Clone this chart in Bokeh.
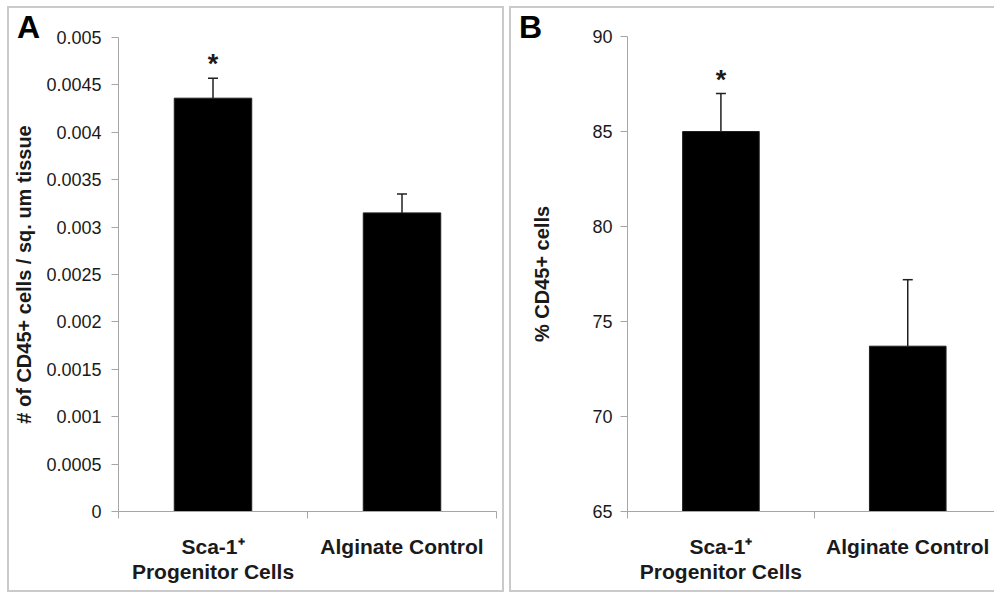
from bokeh.plotting import figure
from bokeh.models import FixedTicker, Whisker, ColumnDataSource, TeeHead, Spacer, Range1d, Div
from bokeh.layouts import row, column
from bokeh.embed import file_html
from bokeh.resources import INLINE
from bokeh.core.properties import value

# ---------------- data ----------------
categories = ["Sca-1\u207a\nProgenitor Cells", "Alginate Control"]
significance = ["*", ""]

a_values = [0.00436, 0.00315]
a_errors = [0.00021, 0.00020]
a_ticks = [0, 0.0005, 0.001, 0.0015, 0.002, 0.0025, 0.003, 0.0035, 0.004, 0.0045, 0.005]
a_tick_labels = ["0", "0.0005", "0.001", "0.0015", "0.002", "0.0025", "0.003",
                 "0.0035", "0.004", "0.0045", "0.005"]
a_ylabel = "# of CD45+ cells / sq. um tissue"

b_values = [85.0, 73.7]
b_errors = [2.0, 3.5]
b_ticks = [65, 70, 75, 80, 85, 90]
b_tick_labels = ["65", "70", "75", "80", "85", "90"]
b_ylabel = "% CD45+ cells"

FONT = "Liberation Sans"
AXIS_COLOR = "#a6a6a6"
TEXT_COLOR = "#1a1a1a"


def make_panel(letter, values, errors, ticks, tick_labels, ylabel, width, height,
               border_left, border_right, border_top, border_bottom, x_end,
               label_standoff, tick_standoff, border_style):
    n = len(categories)
    xs = [i + 0.5 for i in range(n)]
    src = ColumnDataSource(dict(
        x=xs, top=values, upper=[v + e for v, e in zip(values, errors)],
        lower=values, sig=significance))

    p = figure(width=width, height=height, output_backend="svg", toolbar_location=None,
               x_range=Range1d(0, x_end), y_range=Range1d(ticks[0], ticks[-1]),
               min_border_left=border_left, min_border_right=border_right,
               min_border_top=border_top, min_border_bottom=border_bottom)
    p.styles = border_style
    p.outline_line_color = None
    p.xgrid.grid_line_color = None
    p.ygrid.grid_line_color = None
    p.background_fill_color = None
    p.border_fill_color = None

    p.vbar(x="x", top="top", bottom=ticks[0], width=0.41, source=src,
           fill_color="black", line_color="#202020", line_width=1)

    whisk = Whisker(base="x", lower="lower", upper="upper", source=src, dimension="height",
                    lower_head=None,
                    upper_head=TeeHead(size=10, line_color="#202020", line_width=1.5),
                    line_color="#202020", line_width=1.5, level="overlay")
    p.add_layout(whisk)

    p.text(x="x", y="upper", text="sig", source=src, text_font=value(FONT),
           text_font_style="bold", text_font_size="27px", text_align="center",
           text_baseline="alphabetic", y_offset=-14, text_color=TEXT_COLOR)

    # x axis: labels centred on categories, ticks between categories
    xa = p.xaxis[0]
    xa.ticker = FixedTicker(ticks=xs, minor_ticks=[i for i in range(n + 1)])
    xa.major_label_overrides = {x: c for x, c in zip(xs, categories)}
    xa.major_tick_line_color = None
    xa.minor_tick_line_color = AXIS_COLOR
    xa.minor_tick_out = 7
    xa.minor_tick_in = 0
    xa.axis_line_color = AXIS_COLOR
    xa.major_label_text_font = FONT
    xa.major_label_text_font_style = "bold"
    xa.major_label_text_font_size = "21px"
    xa.major_label_text_color = TEXT_COLOR
    xa.major_label_text_line_height = 1.1
    xa.major_label_standoff = 16

    ya = p.yaxis[0]
    ya.ticker = FixedTicker(ticks=ticks)
    ya.major_label_overrides = {t: l for t, l in zip(ticks, tick_labels)}
    ya.minor_tick_line_color = None
    ya.major_tick_line_color = AXIS_COLOR
    ya.major_tick_out = 7
    ya.major_tick_in = 0
    ya.axis_line_color = AXIS_COLOR
    ya.major_label_text_font = FONT
    ya.major_label_text_font_size = "18px"
    ya.major_label_text_color = TEXT_COLOR
    ya.major_label_standoff = tick_standoff
    ya.axis_label = ylabel
    ya.axis_label_text_font = FONT
    ya.axis_label_text_font_style = "bold"
    ya.axis_label_text_font_size = "20px"
    ya.axis_label_text_color = TEXT_COLOR
    ya.axis_label_standoff = label_standoff

    # panel letter, overlapping the top-left corner of the figure
    div = Div(text=letter, width=40, height=40, margin=(0, 0, -40, 0),
              styles={"font-family": FONT, "font-weight": "bold", "font-size": "32px",
                      "line-height": "31px", "color": "black", "padding-left": "10px",
                      "padding-top": "6px", "z-index": "5", "position": "relative"})
    return column(div, p, spacing=0)


border_css = "2px solid #cacaca"
pa = make_panel("A", a_values, a_errors, a_ticks, a_tick_labels, a_ylabel,
                width=497, height=586, border_left=109, border_right=10,
                border_top=29, border_bottom=83, x_end=2.0,
                label_standoff=8, tick_standoff=10,
                border_style={"border": border_css, "box-sizing": "border-box"})
pb = make_panel("B", b_values, b_errors, b_ticks, b_tick_labels, b_ylabel,
                width=485, height=586, border_left=116, border_right=0,
                border_top=28, border_bottom=83, x_end=1.975,
                label_standoff=36, tick_standoff=8,
                border_style={"border-left": border_css, "border-top": border_css,
                              "border-bottom": border_css, "box-sizing": "border-box"})

layout = column(Spacer(height=6), row(Spacer(width=7), pa, Spacer(width=5), pb))
open("out.html", "w").write(file_html(layout, INLINE))
